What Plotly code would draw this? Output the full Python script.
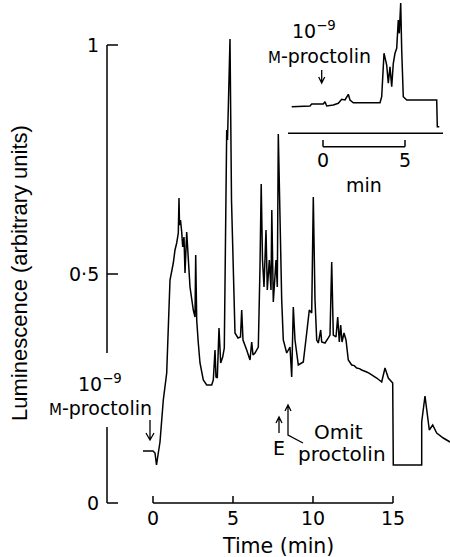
import plotly.graph_objects as go

# ---------------- data ----------------
# main recording: time (min) vs luminescence (arbitrary units)
time_main = [-0.625, 0.0, 0.125, 0.219, 0.3125, 0.4375, 0.644, 0.856, 1.0625, 1.269,
             1.375, 1.481, 1.581, 1.625, 1.656, 1.719, 1.794, 1.856, 1.9375, 2.0,
             2.106, 2.206, 2.3125, 2.519, 2.625, 2.669, 2.731, 2.831, 2.9375, 3.144,
             3.356, 3.669, 3.769, 3.875, 3.9375, 4.019, 4.125, 4.231, 4.356, 4.456,
             4.606, 4.656, 4.8125, 4.906, 5.019, 5.125, 5.3125, 5.469, 5.544, 5.625,
             5.856, 6.0625, 6.169, 6.25, 6.375, 6.581, 6.6875, 6.7625, 6.844, 6.9375,
             7.0625, 7.144, 7.269, 7.375, 7.425, 7.519, 7.6875, 7.769, 7.831, 7.9375,
             8.044, 8.144, 8.356, 8.5625, 8.669, 8.769, 8.875, 9.081, 9.394, 9.606,
             9.769, 9.919, 10.019, 10.125, 10.231, 10.331, 10.481, 10.544, 10.75, 10.956,
             11.0625, 11.169, 11.269, 11.4375, 11.544, 11.644, 11.731, 11.8125, 11.9375, 12.0625,
             12.206, 12.419, 12.58, 12.731, 12.9, 13.044, 13.2, 13.356, 13.5, 13.669,
             13.85, 13.981, 14.294, 14.5, 14.706, 14.981, 15.019, 16.794, 16.794, 17.0,
             17.269, 17.481, 17.731, 18.144, 18.5625]
lum_main = [0.1135, 0.1135, 0.1092, 0.083, 0.1048, 0.1332, 0.2249, 0.2838, 0.4869, 0.524,
            0.5524, 0.5677, 0.5895, 0.666, 0.607, 0.618, 0.5917, 0.559, 0.5808, 0.502,
            0.5917, 0.5306, 0.4716, 0.4214, 0.4061, 0.5415, 0.3996, 0.3493, 0.3057, 0.2686,
            0.2576, 0.2576, 0.2686, 0.334, 0.2751, 0.2729, 0.3821, 0.3057, 0.3188, 0.3384,
            0.8144, 0.7926, 1.0131, 0.6616, 0.4803, 0.3712, 0.3603, 0.3624, 0.4214, 0.3559,
            0.334, 0.3122, 0.3515, 0.3231, 0.3275, 0.3406, 0.5153, 0.6965, 0.5306, 0.4716,
            0.5961, 0.4651, 0.5306, 0.4651, 0.6397, 0.4389, 0.5306, 0.4716, 0.8057, 0.5895,
            0.4432, 0.3559, 0.3275, 0.3406, 0.2751, 0.428, 0.3559, 0.3013, 0.3079, 0.3712,
            0.4214, 0.4148, 0.6681, 0.4432, 0.3559, 0.3493, 0.3777, 0.3515, 0.3493, 0.3603,
            0.3668, 0.5262, 0.3668, 0.3624, 0.4061, 0.3515, 0.3886, 0.3515, 0.3712, 0.3559,
            0.3122, 0.3013, 0.3, 0.2948, 0.2935, 0.2904, 0.289, 0.286, 0.2835, 0.2795,
            0.277, 0.2729, 0.2642, 0.2948, 0.2729, 0.262, 0.083, 0.083, 0.1769, 0.2336,
            0.1594, 0.1703, 0.1528, 0.1419, 0.1332]

# inset recording: time (min) vs luminescence (arbitrary units)
time_inset = [-1.909, -0.793, -0.689, 0.018, 0.122, 0.226, 0.628, 0.933, 1.14, 1.341,
              1.543, 1.646, 1.848, 3.476, 3.579, 3.72, 3.884, 3.982, 4.085, 4.189,
              4.287, 4.39, 4.494, 4.591, 4.652, 4.738, 4.799, 4.896, 5.104, 6.933,
              6.97, 7.091]
lum_inset = [0.0581, 0.0596, 0.064, 0.064, 0.069, 0.0596, 0.0618, 0.0655, 0.0742, 0.0727,
             0.0852, 0.0727, 0.0668, 0.0668, 0.0799, 0.1747, 0.1491, 0.1092, 0.1454, 0.1017,
             0.1528, 0.1747, 0.1856, 0.2474, 0.2183, 0.2845, 0.1819, 0.0799, 0.0727, 0.0727,
             0.0144, 0.0144]

x_tick_vals = [0, 5, 10, 15]
x_tick_text = ["0", "5", "10", "15"]
y_tick_vals = [0, 0.5, 1]
y_tick_text = ["0", "0·5", "1"]
inset_tick_vals = [0, 5]
inset_tick_text = ["0", "5"]

# ---------------- figure ----------------
FONT = "DejaVu Sans"
FS = 19
W, H = 450, 557
LW = 1.5
BLACK = "black"

fig = go.Figure()
fig.add_trace(go.Scatter(x=time_main, y=lum_main, mode="lines",
                         line=dict(color=BLACK, width=LW), xaxis="x", yaxis="y",
                         hoverinfo="skip", showlegend=False))
fig.add_trace(go.Scatter(x=time_inset, y=lum_inset, mode="lines",
                         line=dict(color=BLACK, width=LW), xaxis="x2", yaxis="y2",
                         hoverinfo="skip", showlegend=False))

shapes = []
ann = []

def line(x0, y0, x1, y1, xr="x", yr="y"):
    shapes.append(dict(type="line", x0=x0, y0=y0, x1=x1, y1=y1, xref=xr, yref=yr,
                       line=dict(color=BLACK, width=LW)))

def text(x, y, s, xr="x", yr="y", xanchor="center", size=FS, angle=0, family=FONT):
    ann.append(dict(x=x, y=y, xref=xr, yref=yr, text=s, showarrow=False,
                    xanchor=xanchor, yanchor="middle", textangle=angle, borderpad=0,
                    font=dict(family=family, size=size, color=BLACK)))

# main y axis (interrupted by the label)
yax_x = -2.875
tick_len_x = 0.6875
line(yax_x, 0.3275, yax_x, 1.0)
line(yax_x, 0.0, yax_x, 0.166)
for v, s in zip(y_tick_vals, y_tick_text):
    line(yax_x, v, yax_x + tick_len_x, v)
    text(-3.3, v, s, xanchor="right")

# main x axis
line(x_tick_vals[0], 0.0, x_tick_vals[-1], 0.0)
for v, s in zip(x_tick_vals, x_tick_text):
    line(v, 0.0, v, 0.0153)
    text(v, -0.033, s)
text(278 / W, 1 - 546 / H, "Time (min)", xr="paper", yr="paper", size=20.5)
text(19 / W, 1 - 273 / H, "Luminescence (arbitrary units)", xr="paper", yr="paper",
     size=22, angle=-90, family="Liberation Sans")

# main annotations
small_m = "<span style='font-size:15px'>M</span>"
text(-3.3125, 0.262, "10<sup>−9</sup>")
text(-3.3125, 0.2074, small_m + "-proctolin")

def arrow(path, xr="x", yr="y"):
    shapes.append(dict(type="path", path=path, xref=xr, yref=yr,
                       line=dict(color=BLACK, width=1.3)))

# down arrow at proctolin application
arrow("M -0.1875 0.1812 L -0.1875 0.1376 M -0.4375 0.1528 L -0.1875 0.1376 L 0.0625 0.1528")
# E arrow
arrow("M 7.875 0.1528 L 7.875 0.1878 M 7.6875 0.1747 L 7.875 0.1878 L 8.0625 0.1747")
text(7.875, 0.1201, "E")
# omit proctolin arrow
arrow("M 9.375 0.131 L 8.4375 0.1485 L 8.4375 0.214 M 8.25 0.2009 L 8.4375 0.214 L 8.625 0.2009")
text(11.5625, 0.1545, "Omit", size=20)
text(11.8125, 0.1075, "proctolin", size=20)

# inset axis
line(-2.134, 0.0, 7.317, 0.0, "x2", "y2")
line(inset_tick_vals[0], -0.0293, inset_tick_vals[-1], -0.0293, "x2", "y2")
for v, s in zip(inset_tick_vals, inset_tick_text):
    line(v, -0.0146, v, -0.0293, "x2", "y2")
    text(v, -0.0585, s, "x2", "y2")
text(2.5, -0.113, "min", "x2", "y2")
text(-0.549, 0.2245, "10<sup>−9</sup>", "x2", "y2")
text(-0.244, 0.1688, small_m + "-proctolin", "x2", "y2")
arrow("M -0.079 0.1382 L -0.079 0.1098 M -0.262 0.1229 L -0.079 0.1098 L 0.104 0.1229", "x2", "y2")

# axis ranges map data to pixels: main t=0 at px 153, 16 px/min; y=0 at px 503, 458 px/unit
fig.update_layout(
    width=W, height=H, margin=dict(l=0, r=0, t=0, b=0),
    paper_bgcolor="white", plot_bgcolor="white", showlegend=False,
    xaxis=dict(domain=[0, 1], range=[-153 / 16, (W - 153) / 16], visible=False, fixedrange=True),
    yaxis=dict(domain=[0, 1], range=[(503 - H) / 458, 503 / 458], visible=False, fixedrange=True),
    xaxis2=dict(domain=[0, 1], range=[-323 / 16.4, (W - 323) / 16.4], visible=False,
                overlaying="x", anchor="y2"),
    yaxis2=dict(domain=[0, 1], range=[(133.3 - H) / 458, 133.3 / 458], visible=False,
                overlaying="y", anchor="x2"),
    shapes=shapes, annotations=ann,
)

fig.write_html("out.html", config={"displayModeBar": False})
